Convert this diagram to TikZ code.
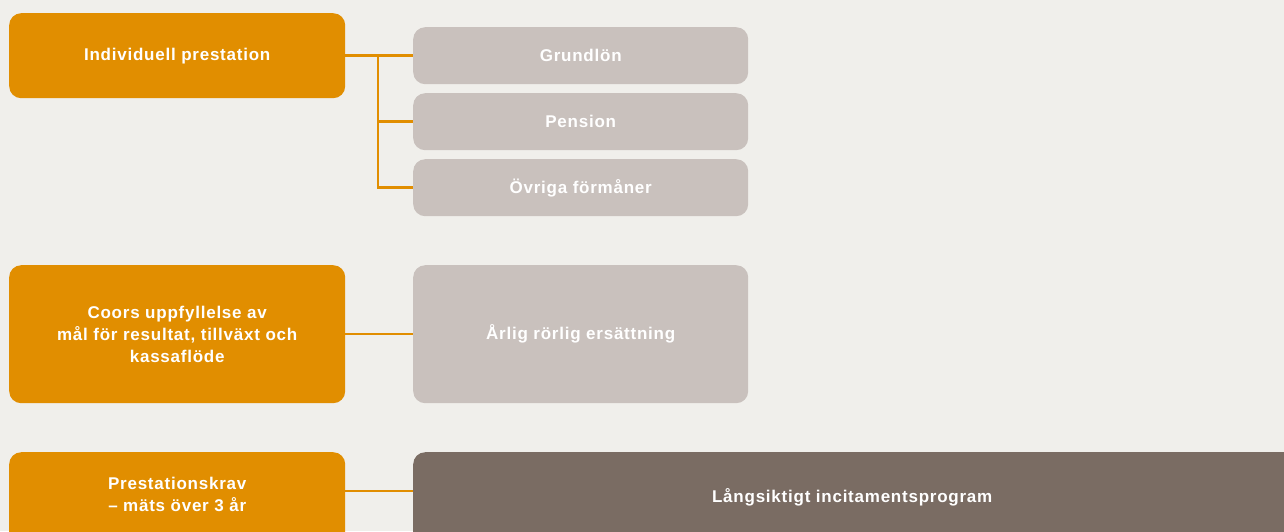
\documentclass[tikz,border=0pt]{standalone}
\usepackage{fontspec}
\setmainfont{Liberation Sans}[LetterSpace=4.5]
\definecolor{bg}{HTML}{F0EFEB}
\definecolor{orng}{HTML}{E18E00}
\definecolor{lgray}{HTML}{C9C1BD}
\definecolor{brwn}{HTML}{7A6C63}
\begin{document}
\begin{tikzpicture}[x=1pt,y=-1pt,
  box/.style={anchor=north west, inner sep=0pt, rounded corners=12pt, text=white,
    font=\fontsize{17}{22}\selectfont\bfseries, align=center},
  obox/.style={box, fill=orng, minimum width=336pt},
  gbox/.style={box, fill=lgray, minimum width=335pt},
  bbox/.style={box, fill=brwn, minimum width=900pt},
  conn/.style={draw=orng, line width=2.5pt}]
\clip (0,0) rectangle (1284,531);
\fill[bg] (0,0) rectangle (1284,531);
\node[obox, minimum height=85pt] (o1) at (9,13) {Individuell prestation};
\node[gbox, minimum height=57pt] (g1) at (413,27) {Grundlön};
\node[gbox, minimum height=57pt] (g2) at (413,93) {Pension};
\node[gbox, minimum height=57pt] (g3) at (413,159) {Övriga förmåner};
\node[obox, minimum height=138pt] (o2) at (9,265) {Coors uppfyllelse av\\mål för resultat, tillväxt och\\kassaflöde};
\node[gbox, minimum height=138pt] (g4) at (413,265) {Årlig rörlig ersättning};
\node[obox, minimum height=100pt, text depth=15.5pt] (o3) at (9,452) {Prestationskrav\\– mäts över 3 år};
\node[bbox, minimum height=110pt, text depth=23.5pt] (b1) at (413,452) {\hspace*{-22pt}Långsiktigt incitamentsprogram};
\coordinate (j) at (378,55.5);
\draw[conn] (o1.east) -- (g1.west);
\draw[conn] (j) |- (g2.west);
\draw[conn] (j) |- (g3.west);
\draw[conn] (o2.east) -- (g4.west);
\draw[conn] (o3.east |- 0,491) -- (b1.west |- 0,491);
\end{tikzpicture}
\end{document}
